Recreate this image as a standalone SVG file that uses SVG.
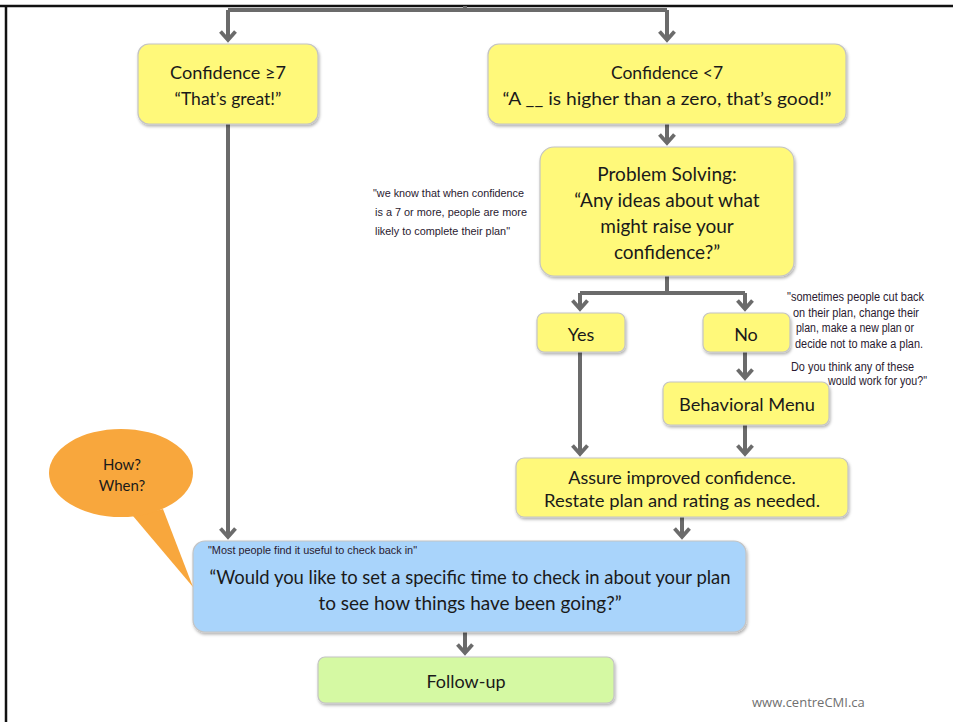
<svg xmlns="http://www.w3.org/2000/svg" width="953" height="722" viewBox="0 0 953 722">
<defs>
<style>
.box{stroke:#c4c4c4;stroke-width:1.2;filter:url(#sh)}
.y{fill:#FFF97A}
.b{fill:#A9D4FB}
.g{fill:#D5F9A3}
.t{font-family:Lato,"Open Sans",sans-serif;fill:#1a1a1a;text-anchor:middle}
.n{font-family:"Liberation Sans",Arial,sans-serif;fill:#2a1a30}
.c{fill:none;stroke:#6b6b6b;stroke-width:4}
.ca{fill:none;stroke:#6b6b6b;stroke-width:4;marker-end:url(#ah)}
</style>
<filter id="sh" x="-10%" y="-10%" width="120%" height="130%">
<feDropShadow dx="1" dy="2" stdDeviation="1.5" flood-color="#000" flood-opacity="0.3"/>
</filter>
<marker id="ah" markerWidth="18" markerHeight="18" refX="0" refY="0" orient="auto" markerUnits="userSpaceOnUse" viewBox="-12 -9 18 18" overflow="visible">
<path d="M-8.5,-7.5 L0,0 L-8.5,7.5" fill="none" stroke="#6b6b6b" stroke-width="3.8" stroke-linejoin="miter" stroke-linecap="butt"/>
</marker>
</defs>
<rect width="953" height="722" fill="#fff"/>
<line x1="0" y1="6" x2="953" y2="6" stroke="#111" stroke-width="2.5"/>
<line x1="6" y1="6" x2="6" y2="722" stroke="#111" stroke-width="2.5"/>

<g id="connectors">
<path class="c" d="M465,6 V10 M228,10 H667"/>
<path class="ca" d="M228,10 V40"/>
<path class="ca" d="M667,10 V40"/>
<path class="ca" d="M667,124 V143"/>
<path class="ca" d="M228,124 V537"/>
<path class="c" d="M667,276 V293 M580,293 H745"/>
<path class="ca" d="M580,293 V309"/>
<path class="ca" d="M745,293 V309"/>
<path class="ca" d="M745,352 V378"/>
<path class="ca" d="M580,352 V454"/>
<path class="ca" d="M745,425 V454"/>
<path class="ca" d="M682,517 V537"/>
<path class="ca" d="M465,632 V653"/>
</g>

<g id="conf-high">
<rect class="box y" x="138" y="44" width="180" height="80" rx="11"/>
<text class="t" font-size="17.5" x="228" y="79" textLength="116" lengthAdjust="spacingAndGlyphs">Confidence ≥7</text>
<text class="t" font-size="17.5" x="228" y="105">“That’s great!”</text>
</g>
<g id="conf-low">
<rect class="box y" x="488" y="44" width="358" height="80" rx="11"/>
<text class="t" font-size="17.5" x="667" y="79">Confidence &lt;7</text>
<text class="t" font-size="17.5" x="667" y="105" textLength="329" lengthAdjust="spacingAndGlyphs">“A __ is higher than a zero, that’s good!”</text>
</g>
<g id="problem-solving">
<rect class="box y" x="540" y="147" width="254" height="129" rx="14"/>
<text class="t" font-size="19" x="667" y="181">Problem Solving:</text>
<text class="t" font-size="19" x="667" y="207">“Any ideas about what</text>
<text class="t" font-size="19" x="667" y="233">might raise your</text>
<text class="t" font-size="19" x="667" y="259">confidence?”</text>
</g>
<g id="yes">
<rect class="box y" x="537" y="313" width="88" height="39" rx="7"/>
<text class="t" font-size="18" x="581" y="341">Yes</text>
</g>
<g id="no">
<rect class="box y" x="703" y="313" width="87" height="39" rx="7"/>
<text class="t" font-size="18" x="746" y="341">No</text>
</g>
<g id="behavioral-menu">
<rect class="box y" x="663" y="382" width="166" height="43" rx="7"/>
<text class="t" font-size="18" x="747" y="411" textLength="136" lengthAdjust="spacingAndGlyphs">Behavioral Menu</text>
</g>
<g id="assure">
<rect class="box y" x="516" y="458" width="332" height="59" rx="8"/>
<text class="t" font-size="18" x="682" y="484">Assure improved confidence.</text>
<text class="t" font-size="18" x="682" y="507" textLength="276" lengthAdjust="spacingAndGlyphs">Restate plan and rating as needed.</text>
</g>
<g id="check-in">
<rect class="box b" x="193" y="541" width="553" height="91" rx="12"/>
<text class="n" font-size="10.5" x="208" y="554" textLength="209" lengthAdjust="spacingAndGlyphs">"Most people find it useful to check back in"</text>
<text class="t" font-size="19" x="470" y="584" textLength="521" lengthAdjust="spacingAndGlyphs">“Would you like to set a specific time to check in about your plan</text>
<text class="t" font-size="19" x="470" y="610">to see how things have been going?”</text>
</g>
<g id="follow-up">
<rect class="box g" x="318" y="657" width="296" height="46" rx="7"/>
<text class="t" font-size="18" x="466" y="688">Follow-up</text>
</g>
<g id="how-when">
<path d="M133,516 L193,587 L163,509 Z" fill="#F8A73D"/>
<ellipse cx="121" cy="473" rx="72" ry="44" fill="#F8A73D"/>
<text class="t" font-size="15" x="122" y="470">How?</text>
<text class="t" font-size="15" x="122" y="491">When?</text>
</g>
<g id="note-left">
<text class="n" font-size="11.5" x="373" y="197" textLength="151" lengthAdjust="spacingAndGlyphs">"we know that when confidence</text>
<text class="n" font-size="11.5" x="375" y="216" textLength="152" lengthAdjust="spacingAndGlyphs">is a 7 or more, people are more</text>
<text class="n" font-size="11.5" x="375" y="235" textLength="135" lengthAdjust="spacingAndGlyphs">likely to complete their plan"</text>
</g>
<g id="note-right">
<text class="n" font-size="12.5" x="787" y="301" textLength="137" lengthAdjust="spacingAndGlyphs">"sometimes people cut back</text>
<text class="n" font-size="12.5" x="793" y="317" textLength="126" lengthAdjust="spacingAndGlyphs">on their plan, change their</text>
<text class="n" font-size="12.5" x="796" y="332" textLength="118" lengthAdjust="spacingAndGlyphs">plan, make a new plan or</text>
<text class="n" font-size="12.5" x="795" y="348" textLength="128" lengthAdjust="spacingAndGlyphs">decide not to make a plan.</text>
<text class="n" font-size="12.5" x="791" y="371" textLength="123" lengthAdjust="spacingAndGlyphs">Do you think any of these</text>
<text class="n" font-size="12.5" x="828" y="385" textLength="99" lengthAdjust="spacingAndGlyphs">would work for you?"</text>
</g>
<text font-family="'Open Sans',sans-serif" font-size="13" fill="#707070" x="752" y="707">www.centreCMI.ca</text>
</svg>
